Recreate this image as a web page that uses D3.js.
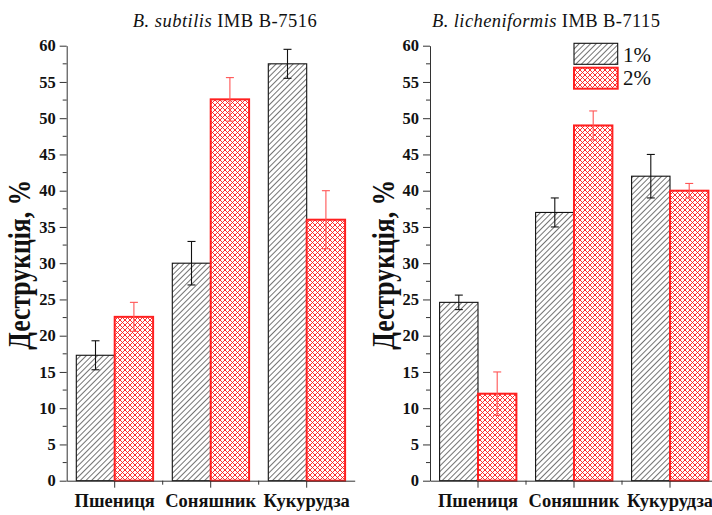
<!DOCTYPE html>
<html>
<head>
<meta charset="utf-8">
<script src="https://cdn.jsdelivr.net/npm/d3@7"></script>
<style>
  body { margin: 0; background: #fff; }
</style>
</head>
<body>
<div id="chart"></div>
<script>
// data
const categories = ["Пшениця", "Соняшник", "Кукурудза"];
const seriesNames = ["1%", "2%"];

const subtilis1 = [17.3, 30.0, 57.5];
const subtilis1Err = [2.0, 3.0, 2.0];
const subtilis2 = [22.6, 52.6, 36.0];
const subtilis2Err = [2.0, 3.0, 4.0];

const licheni1 = [24.6, 37.0, 42.0];
const licheni1Err = [1.0, 2.0, 3.0];
const licheni2 = [12.0, 49.0, 40.0];
const licheni2Err = [3.0, 2.0, 1.0];

const yTicks = d3.range(0, 61, 5);
const yMinor = d3.range(2.5, 60, 5);

const width = 712;
const height = 515;
const serif = "'Liberation Serif', 'Times New Roman', serif";

const svg = d3.select("#chart")
  .append("svg")
  .attr("width", width)
  .attr("height", height);

const defs = svg.append("defs");

// 1% — black diagonal hatch
const hatch = defs.append("pattern")
  .attr("id", "hatch")
  .attr("patternUnits", "userSpaceOnUse")
  .attr("width", 4)
  .attr("height", 4)
  .attr("patternTransform", "rotate(45)");
hatch.append("rect").attr("width", 4).attr("height", 4).attr("fill", "white");
hatch.append("line")
  .attr("x1", 0).attr("y1", 0).attr("x2", 0).attr("y2", 4)
  .attr("stroke", "#000").attr("stroke-width", 1.1);

// 2% — red cross hatch
const cross = defs.append("pattern")
  .attr("id", "cross")
  .attr("patternUnits", "userSpaceOnUse")
  .attr("width", 5)
  .attr("height", 5);
cross.append("rect").attr("width", 5).attr("height", 5).attr("fill", "white");
cross.append("path")
  .attr("d", "M0,0L5,5M5,0L0,5")
  .attr("stroke", "#ff1a1a").attr("stroke-width", 0.9);

const fills = ["url(#hatch)", "url(#cross)"];
const strokes = ["#111", "#ff2020"];
const errColors = ["#111", "#ff5555"];

const y = d3.scaleLinear().domain([0, 60]).range([480.7, 45.7]);

function panel(left, titleX, titleW, titleItalic, titleRest, s1, e1, s2, e2) {
  const g = svg.append("g");

  const xb = d3.scaleBand().domain(categories).range([left, left + 288]);
  // two bars fill 80% of each band
  const inner = d3.scaleBand().domain([0, 1]).range([0, xb.bandwidth() * 0.8]);
  const off = xb.bandwidth() * 0.1;

  const rows = [];
  categories.forEach((c, i) => {
    rows.push({ c, s: 0, v: s1[i], e: e1[i] });
    rows.push({ c, s: 1, v: s2[i], e: e2[i] });
  });

  g.selectAll("rect.bar")
    .data(rows)
    .join("rect")
    .attr("class", "bar")
    .attr("x", d => xb(d.c) + off + inner(d.s))
    .attr("y", d => y(d.v))
    .attr("width", inner.bandwidth())
    .attr("height", d => y(0) - y(d.v))
    .attr("fill", d => fills[d.s])
    .attr("stroke", d => strokes[d.s])
    .attr("stroke-width", d => d.s ? 2 : 1.1);

  // error bars
  const eb = g.selectAll("g.err")
    .data(rows)
    .join("g")
    .attr("class", "err")
    .attr("stroke", d => errColors[d.s])
    .attr("stroke-width", 1.1);
  const cx = d => xb(d.c) + off + inner(d.s) + inner.bandwidth() / 2;
  eb.append("line")
    .attr("x1", cx).attr("x2", cx)
    .attr("y1", d => y(d.v + d.e)).attr("y2", d => y(d.v - d.e));
  eb.append("line")
    .attr("x1", d => cx(d) - 4).attr("x2", d => cx(d) + 4)
    .attr("y1", d => y(d.v + d.e)).attr("y2", d => y(d.v + d.e));
  eb.append("line")
    .attr("x1", d => cx(d) - 4).attr("x2", d => cx(d) + 4)
    .attr("y1", d => y(d.v - d.e)).attr("y2", d => y(d.v - d.e));

  // y axis
  const ya = g.append("g")
    .attr("transform", `translate(${left},0)`)
    .call(d3.axisLeft(y).tickValues(yTicks).tickSize(7).tickSizeOuter(0).tickPadding(4));
  ya.selectAll("text")
    .style("font-family", serif)
    .style("font-size", "16.5px")
    .style("font-weight", "bold")
    .attr("fill", "#111");
  ya.append("g")
    .selectAll("line")
    .data(yMinor)
    .join("line")
    .attr("x1", -4).attr("x2", 0)
    .attr("y1", d => y(d)).attr("y2", d => y(d));
  ya.selectAll("path, line").attr("stroke", "#333");

  // x axis
  const xa = g.append("g")
    .attr("transform", `translate(0,${y(0)})`)
    .call(d3.axisBottom(xb).tickSize(7).tickSizeOuter(0).tickPadding(6));
  xa.selectAll("text")
    .style("font-family", serif)
    .style("font-size", "18.5px")
    .style("font-weight", "bold")
    .attr("fill", "#111");
  xa.append("g")
    .selectAll("line")
    .data(categories.slice(1))
    .join("line")
    .attr("x1", d => xb(d)).attr("x2", d => xb(d))
    .attr("y1", 0).attr("y2", 4);
  xa.selectAll("path, line").attr("stroke", "#333");

  // title
  const t = g.append("text")
    .attr("x", titleX)
    .attr("y", 26.5)
    .attr("text-anchor", "middle")
    .attr("textLength", titleW)
    .attr("lengthAdjust", "spacing")
    .style("font-family", serif)
    .style("font-size", "18.5px")
    .attr("fill", "#111");
  t.append("tspan").style("font-style", "italic").text(titleItalic);
  t.append("tspan").text(titleRest);

  // y label
  g.append("text")
    .attr("transform", `translate(${left - 36.5},${y(30) + 1.5}) rotate(-90)`)
    .attr("text-anchor", "middle")
    .attr("textLength", 170)
    .attr("lengthAdjust", "spacingAndGlyphs")
    .style("font-family", serif)
    .style("font-size", "32px")
    .style("font-weight", "bold")
    .attr("fill", "#111")
    .text("Деструкція, %");
}

panel(66.7, 224.7, 184, "B. subtilis", " IMB B-7516", subtilis1, subtilis1Err, subtilis2, subtilis2Err);
panel(430, 546, 228, "B. licheniformis", " IMB B-7115", licheni1, licheni1Err, licheni2, licheni2Err);

// legend
const legend = svg.append("g");
seriesNames.forEach((name, i) => {
  legend.append("rect")
    .attr("x", 574)
    .attr("y", 43.3 + i * 24.4)
    .attr("width", 43.7)
    .attr("height", 21)
    .attr("fill", fills[i])
    .attr("stroke", strokes[i])
    .attr("stroke-width", i ? 2 : 1.1);
  legend.append("text")
    .attr("x", 623)
    .attr("y", 61.7 + i * 23.4)
    .style("font-family", serif)
    .style("font-size", "21px")
    .attr("fill", "#111")
    .text(name);
});
</script>
</body>
</html>
